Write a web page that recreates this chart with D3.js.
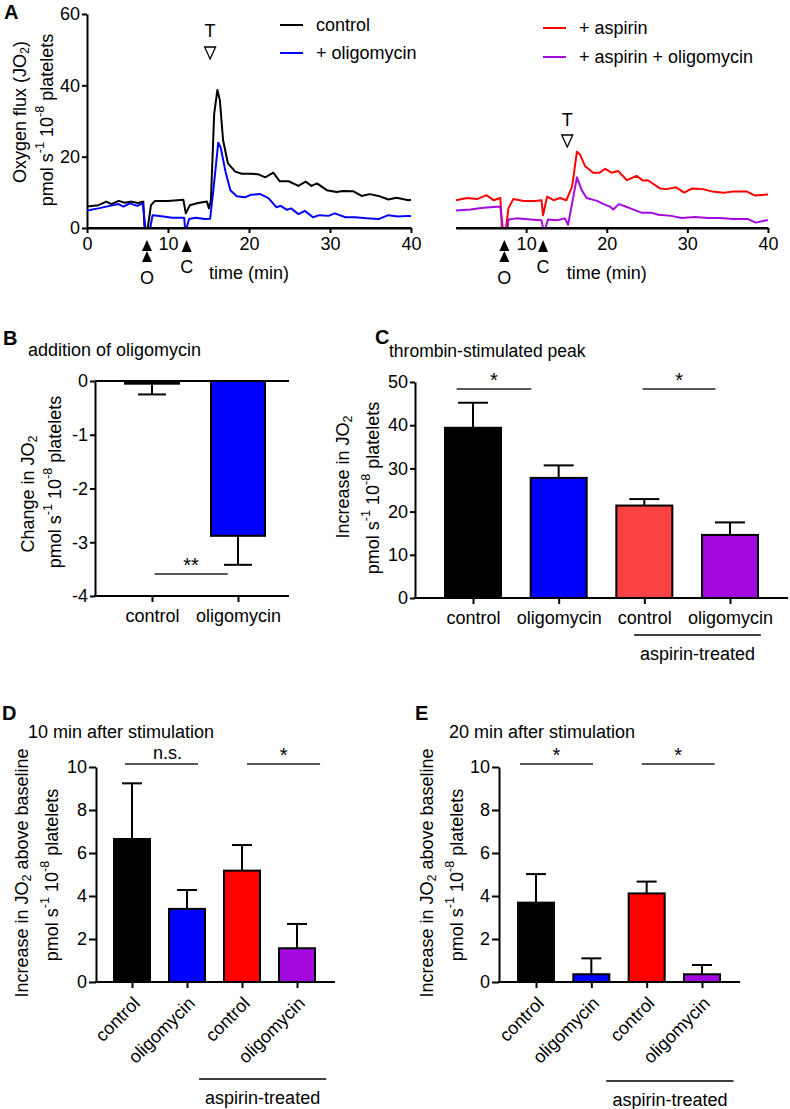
<!DOCTYPE html>
<html><head><meta charset="utf-8">
<script src="https://cdn.jsdelivr.net/npm/d3@7"></script>
<style>
body{margin:0;background:#fff}
svg{display:block}
text{font-family:'Liberation Sans',Arial,sans-serif;fill:#000}
</style>
</head><body>
<svg id="fig" width="790" height="1109"></svg>
<script>
// ---------------- DATA ----------------
// Panel A traces: [time (min), JO2]
const traceControl = [[0,6.0],[1.4,6.4],[2.4,7.4],[3.0,6.7],[3.9,7.6],[4.7,7.1],[5.5,7.4],[6.3,7.0],[6.95,7.4],[7.1,0],[7.5,0],[7.9,6.4],[8.4,7.6],[10.0,7.6],[11.9,7.9],[12.2,4.1],[12.7,6.4],[13.7,7.0],[14.8,7.4],[15.06,5.5],[15.3,7.8],[15.7,32],[16.1,38.7],[16.4,35.9],[16.8,24.6],[17.4,18.1],[18.3,15.8],[19.1,15.2],[20.1,15.2],[21.1,15.1],[22.0,14.2],[23.0,15.5],[23.8,13.1],[24.9,13.1],[26.1,11.8],[27.0,13.0],[27.7,11.8],[28.4,12.5],[29.6,10.6],[30.8,10.1],[31.6,10.4],[32.9,10.3],[33.9,9.0],[34.9,9.5],[36.0,9.0],[37.2,8.0],[38.2,8.5],[39.7,7.8],[40,7.9]];
const traceOligomycin = [[0,4.9],[1.4,5.5],[2.8,6.2],[3.9,6.7],[4.5,6.0],[5.3,6.9],[6.2,6.2],[6.9,6.9],[7.2,0],[7.8,0],[8.1,3.6],[9.2,3.3],[10.5,2.9],[12.0,2.9],[12.1,0],[12.3,0],[12.6,2.5],[13.4,2.9],[14.6,2.5],[15.2,2.6],[15.6,10.6],[16.2,23.9],[16.5,22.6],[17.1,15.8],[17.7,10.6],[18.5,8.9],[19.5,8.6],[20.2,9.3],[21.4,9.5],[22.4,8.4],[23.4,5.8],[23.9,6.2],[24.7,5.1],[25.2,5.5],[26.1,3.9],[26.9,4.8],[27.9,3.0],[28.7,3.6],[29.8,3.4],[30.6,4.1],[31.9,3.0],[33.1,3.0],[34.5,2.7],[36.0,2.5],[37.2,3.6],[38.4,3.2],[39.7,3.4],[40,3.3]];
const traceAspirin = [[1.3,7.8],[2.65,8.4],[3.9,8.1],[5.1,9.2],[5.95,7.8],[6.8,8.4],[7.0,0],[7.5,0],[7.8,5.5],[8.4,8.1],[9.7,7.6],[11.1,7.6],[11.9,7.8],[12.1,3.6],[12.6,8.8],[13.4,7.8],[14.2,8.4],[15.0,7.8],[15.7,11.6],[16.3,21.4],[16.7,20.5],[17.3,17.4],[18.3,15.5],[19.1,15.5],[19.8,16.6],[20.6,15.5],[21.4,16.0],[22.5,13.4],[23.7,14.6],[24.5,13.3],[25.1,13.4],[26.6,11.1],[27.4,10.9],[28.6,11.4],[29.6,9.9],[30.6,11.1],[31.9,10.9],[33.1,10.2],[34.5,9.9],[35.6,10.2],[37.4,10.2],[38.4,9.1],[39.8,9.4],[40,9.4]];
const traceAspirinOligomycin = [[1.3,4.9],[3.1,5.2],[4.7,5.7],[6.8,6.0],[7.1,0],[7.7,0],[7.8,2.4],[8.8,2.7],[10.5,2.4],[11.9,2.2],[12.1,0],[12.4,0],[12.7,2.4],[13.8,2.2],[14.8,2.7],[15.2,0.9],[15.7,6.9],[16.3,14.2],[16.9,10.6],[17.5,8.4],[18.8,7.6],[19.6,6.7],[20.4,6.0],[20.8,5.2],[21.5,6.7],[22.6,5.8],[24.3,4.3],[25.5,4.3],[26.4,3.7],[28.0,3.4],[29.3,2.8],[30.9,3.1],[32.6,2.8],[34.0,2.8],[35.7,2.5],[37.5,2.5],[38.5,1.5],[39.8,2.2],[40,2.2]];
const traceYTicks = [0,20,40,60];
const traceXTicksLeft = [0,10,20,30,40];
const traceXTicksRight = [10,20,30,40];
const legendLeftLabels = ["control","+ oligomycin"];
const legendRightLabels = ["+ aspirin","+ aspirin + oligomycin"];
const eventTimesLeft = [7.4,12.3,15.2];   // O, C, T
const eventTimesRight = [7.3,12.1,15.1];

// Bar panels
const bKeys = ["control","oligomycin"];
const bLabels = ["control","oligomycin"];
const bValues = [-0.05,-2.88];
const bErrors = [-0.25,-3.42];
const bYTicks = [0,-1,-2,-3,-4];

const barKeys = ["control","oligomycin","aspControl","aspOligomycin"];
const barLabels = ["control","oligomycin","control","oligomycin"];
const cValues = [39.4,27.8,21.4,14.6];
const cErrors = [45.2,30.7,22.9,17.5];
const cYTicks = [0,10,20,30,40,50];
const dValues = [6.65,3.40,5.18,1.57];
const dErrors = [9.24,4.28,6.37,2.70];
const eValues = [3.69,0.36,4.12,0.36];
const eErrors = [5.02,1.10,4.67,0.79];
const deYTicks = [0,2,4,6,8,10];
// significance: [from index, to index, label]
const bSig = [[0.03,0.88,"**"]];
const cSig = [[-0.19,0.68,"*"],[1.98,2.83,"*"]];
const dSig = [[-0.13,1.2,"n.s."],[2.09,3.42,"*"]];
const eSig = [[-0.29,1.03,"*"],[1.91,3.23,"*"]];

const colBlack = "#000000", colBlue = "#0000ff", colRed = "#ff0000", colRedC = "#f94242", colPurple = "#a40ae0";

// ---------------- DRAW ----------------
const svg = d3.select("#fig");
svg.append("rect").attr("width",790).attr("height",1109).attr("fill","#fff");
const FS = 18;
const fmt = d => String(d);

function styleAxis(g){
  g.selectAll("path,line").attr("stroke","#000").attr("stroke-width",2);
  g.selectAll("text").attr("font-size",FS).attr("fill","#000");
}
function rich(t, parts, fs){
  let prev = 0;
  parts.forEach(([s,k])=>{
    const shift = k==="sub" ? fs*0.3 : k==="sup" ? -fs*0.4 : 0;
    const ts = t.append("tspan").text(s).attr("dy", shift-prev);
    if (k) ts.attr("font-size", fs*0.7);
    prev = shift;
  });
}
function vLabel(x, yc, parts){
  const t = svg.append("text").attr("transform",`translate(${x},${yc}) rotate(-90)`)
    .attr("text-anchor","middle").attr("dominant-baseline","central").attr("font-size",FS);
  rich(t, parts, FS);
}
function txt(x,y,s,opt={}){
  return svg.append("text").attr("x",x).attr("y",y).text(s)
    .attr("font-size",opt.fs||FS).attr("text-anchor",opt.anchor||"start")
    .attr("dominant-baseline","central").attr("font-weight",opt.bold?"bold":null);
}

// ===== Panel A =====
const yA = d3.scaleLinear().domain([0,60]).range([228,14]);
const xAL = d3.scaleLinear().domain([0,40]).range([87,411]);
const xAR = d3.scaleLinear().domain([1.3,40]).range([456,768]);

svg.append("g").attr("transform","translate(87,0)")
  .call(d3.axisLeft(yA).tickValues(traceYTicks).tickFormat(fmt).tickSize(5).tickPadding(2).tickSizeOuter(0)).call(styleAxis);
svg.append("g").attr("transform","translate(0,228)")
  .call(d3.axisBottom(xAL).tickValues(traceXTicksLeft).tickFormat(fmt).tickSize(5).tickPadding(4).tickSizeOuter(0)).call(styleAxis);
svg.append("g").attr("transform","translate(0,228)")
  .call(d3.axisBottom(xAR).tickValues(traceXTicksRight).tickFormat(fmt).tickSize(5).tickPadding(4).tickSizeOuter(0)).call(styleAxis);

svg.append("clipPath").attr("id","clipL").append("rect").attr("x",87).attr("y",0).attr("width",326).attr("height",229);
svg.append("clipPath").attr("id","clipR").append("rect").attr("x",455).attr("y",0).attr("width",315).attr("height",229);

const lineL = d3.line().x(d=>xAL(d[0])).y(d=>yA(d[1]));
const lineR = d3.line().x(d=>xAR(d[0])).y(d=>yA(d[1]));
[[traceControl,colBlack],[traceOligomycin,colBlue]].forEach(([d,c])=>{
  svg.append("path").datum(d).attr("d",lineL).attr("fill","none").attr("stroke",c).attr("stroke-width",2).attr("stroke-linejoin","round").attr("clip-path","url(#clipL)");
});
[[traceAspirin,colRed],[traceAspirinOligomycin,colPurple]].forEach(([d,c])=>{
  svg.append("path").datum(d).attr("d",lineR).attr("fill","none").attr("stroke",c).attr("stroke-width",2).attr("stroke-linejoin","round").attr("clip-path","url(#clipR)");
});
svg.append("line").attr("x1",xAL(0)).attr("x2",xAL(40)).attr("y1",yA(0)).attr("y2",yA(0)).attr("stroke","#000").attr("stroke-width",2);
svg.append("line").attr("x1",xAR(1.3)).attr("x2",xAR(40)).attr("y1",yA(0)).attr("y2",yA(0)).attr("stroke","#000").attr("stroke-width",2);

// event markers
function tri(x, yTop, h, w){
  return `M${x},${yTop} L${x+w/2},${yTop+h} L${x-w/2},${yTop+h} Z`;
}
[[xAL,eventTimesLeft,53,31],[xAR,eventTimesRight,141,120]].forEach(([xs,ev,yTri,yT])=>{
  const xo = xs(ev[0]), xc = xs(ev[1]), xt = xs(ev[2]);
  svg.append("path").attr("d",tri(xo,240,11,10)).attr("fill","#000");
  svg.append("path").attr("d",tri(xo,251,11,10)).attr("fill","#000");
  txt(xo,278,"O",{anchor:"middle"});
  svg.append("path").attr("d",tri(xc,240,12,10)).attr("fill","#000");
  txt(xc,267,"C",{anchor:"middle"});
  txt(xt,yT,"T",{anchor:"middle"});
  svg.append("path").attr("d",`M${xt-5.5},${yTri-6} L${xt+5.5},${yTri-6} L${xt},${yTri+6} Z`).attr("fill","none").attr("stroke","#000").attr("stroke-width",1.3);
});
txt(xAL(20),273,"time (min)",{anchor:"middle"});
txt(xAR(20),273,"time (min)",{anchor:"middle"});

// legends
[[legendLeftLabels,[colBlack,colBlue],280,[25,53]],[legendRightLabels,[colRed,colPurple],543,[28,57]]].forEach(([labs,cols,x,ys])=>{
  labs.forEach((l,i)=>{
    svg.append("line").attr("x1",x).attr("x2",x+23).attr("y1",ys[i]).attr("y2",ys[i]).attr("stroke",cols[i]).attr("stroke-width",2);
    txt(x+36,ys[i],l);
  });
});
txt(4,12,"A",{bold:true,fs:20});
vLabel(20,112,[["Oxygen flux (JO"],["2","sub"],[")"]]);
vLabel(47,120,[["pmol s"],["-1","sup"],[" 10"],["-8","sup"],[" platelets"]]);

// ===== Bar panel helper =====
function barPanel(o){
  const y = d3.scaleLinear().domain(o.yDomain).range(o.yRange);
  const x = d3.scalePoint().domain(o.keys).range(o.centers);
  const step = (o.centers[1]-o.centers[0])/(o.keys.length-1);
  const xi = i => o.centers[0] + i*step;
  svg.append("g").attr("transform",`translate(${o.axisX[0]},0)`)
    .call(d3.axisLeft(y).tickValues(o.yTicks).tickFormat(fmt).tickSize(o.tick||5).tickPadding(2).tickSizeOuter(0)).call(styleAxis);
  o.keys.forEach((k,i)=>{
    const v = o.values[i], e = o.errors[i];
    const yb = y(0), yv = y(v);
    svg.append("line").attr("x1",x(k)).attr("x2",x(k)).attr("y1",yv).attr("y2",y(e)).attr("stroke","#000").attr("stroke-width",2);
    svg.append("line").attr("x1",x(k)-o.capW/2).attr("x2",x(k)+o.capW/2).attr("y1",y(e)).attr("y2",y(e)).attr("stroke","#000").attr("stroke-width",2);
    svg.append("rect").attr("x",x(k)-o.barW/2).attr("width",o.barW)
      .attr("y",Math.min(yb,yv)).attr("height",Math.abs(yv-yb))
      .attr("fill",o.colors[i]).attr("stroke","#000").attr("stroke-width",2);
  });
  const yAxisPos = y(o.xAxisAt);
  const ax = svg.append("g").attr("transform",`translate(0,${yAxisPos})`)
    .call(d3.axisBottom(x).tickFormat((d,i)=>o.labels[i]).tickSize(6).tickPadding(o.pad||6));
  ax.select(".domain").remove();
  ax.call(styleAxis);
  svg.append("line").attr("x1",o.axisX[0]-1).attr("x2",o.axisX[1]).attr("y1",yAxisPos).attr("y2",yAxisPos).attr("stroke","#000").attr("stroke-width",2);
  if (o.zeroLine) svg.append("line").attr("x1",o.axisX[0]).attr("x2",o.axisX[1]).attr("y1",y(0)).attr("y2",y(0)).attr("stroke","#000").attr("stroke-width",2);
  if (o.rotate){
    ax.selectAll("text").attr("text-anchor","end").attr("x",0).attr("y",0).attr("dy","0.35em")
      .attr("transform","translate(4,18) rotate(-45)");
  }
  o.sigs.forEach(([a,b,l])=>{
    const ys = y(o.sigAt);
    svg.append("line").attr("x1",xi(a)).attr("x2",xi(b)).attr("y1",ys).attr("y2",ys).attr("stroke","#222").attr("stroke-width",1.5);
    svg.append("text").attr("x",(xi(a)+xi(b))/2 + (l==="n.s."?6:0)).attr("y",ys-(l==="n.s."?11:9)).text(l)
      .attr("font-size",l==="n.s."?FS:20).attr("text-anchor","middle").attr("dominant-baseline","central");
  });
  if (o.asp){
    const [a,b,dy] = o.asp;
    svg.append("line").attr("x1",xi(a)).attr("x2",xi(b)).attr("y1",yAxisPos+dy).attr("y2",yAxisPos+dy).attr("stroke","#000").attr("stroke-width",1.5);
    txt((xi(a)+xi(b))/2, yAxisPos+dy+19, "aspirin-treated",{anchor:"middle"});
  }
}

// ===== Panel B =====
txt(3,338,"B",{bold:true,fs:20});
txt(28,350,"addition of oligomycin");
barPanel({keys:bKeys,labels:bLabels,values:bValues,errors:bErrors,colors:[colBlack,colBlue],
  yDomain:[-4,0],yRange:[596,381],yTicks:bYTicks,axisX:[95,289],centers:[152,238],
  barW:54,capW:28,xAxisAt:-4,zeroLine:true,sigs:bSig,sigAt:-3.59,pad:7});
vLabel(28,494,[["Change in JO"],["2","sub"]]);
vLabel(55,482,[["pmol s"],["-1","sup"],[" 10"],["-8","sup"],[" platelets"]]);

// ===== Panel C =====
txt(375,337,"C",{bold:true,fs:20});
txt(389,351,"thrombin-stimulated peak",{fs:17.5});
barPanel({keys:barKeys,labels:barLabels,values:cValues,errors:cErrors,colors:[colBlack,colBlue,colRedC,colPurple],
  yDomain:[0,50],yRange:[598,382],yTicks:cYTicks,axisX:[415,788],centers:[473,730],
  barW:56,capW:30,xAxisAt:0,sigs:cSig,sigAt:48.4,asp:[1.88,3.36,37],pad:7});
vLabel(343,477,[["Increase in JO"],["2","sub"]]);
vLabel(373,488,[["pmol s"],["-1","sup"],[" 10"],["-8","sup"],[" platelets"]]);

// ===== Panel D =====
txt(2,713,"D",{bold:true,fs:20});
txt(28,732,"10 min after stimulation");
barPanel({keys:barKeys,labels:barLabels,values:dValues,errors:dErrors,colors:[colBlack,colBlue,colRed,colPurple],
  yDomain:[0,10],yRange:[982,767],yTicks:deYTicks,axisX:[96,335],centers:[132,297],tick:7,
  barW:36,capW:20,xAxisAt:0,sigs:dSig,sigAt:10.14,asp:[1.22,3.53,97],rotate:true});
vLabel(22,873,[["Increase in JO"],["2","sub"],[" above baseline"]]);
vLabel(52,875,[["pmol s"],["-1","sup"],[" 10"],["-8","sup"],[" platelets"]]);

// ===== Panel E =====
txt(415,713,"E",{bold:true,fs:20});
txt(449,732,"20 min after stimulation");
barPanel({keys:barKeys,labels:barLabels,values:eValues,errors:eErrors,colors:[colBlack,colBlue,colRed,colPurple],
  yDomain:[0,10],yRange:[982,767],yTicks:deYTicks,axisX:[499,740],centers:[536,702],tick:7,
  barW:36,capW:20,xAxisAt:0,sigs:eSig,sigAt:10.14,asp:[1.27,3.57,99],rotate:true});
vLabel(427,873,[["Increase in JO"],["2","sub"],[" above baseline"]]);
vLabel(457,875,[["pmol s"],["-1","sup"],[" 10"],["-8","sup"],[" platelets"]]);
</script>
</body></html>
